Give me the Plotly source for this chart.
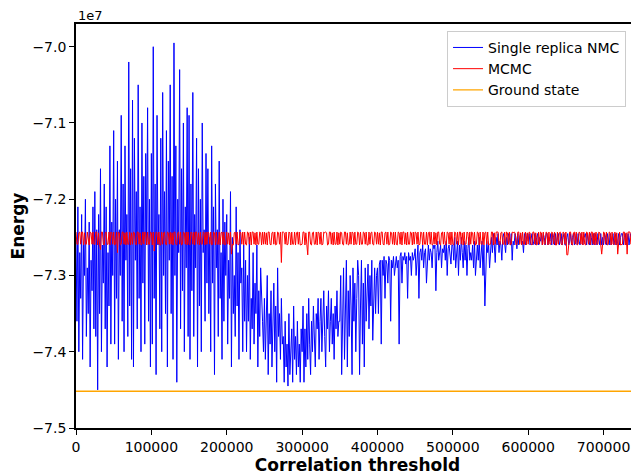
import plotly.graph_objects as go

# Correlation threshold grid (sample positions)
thresholds = list(range(0, 750000, 1250))

# Energies in units of 1e7
nmc_energy_e7 = [
    -7.25, -7.36, -7.21, -7.40, -7.27, -7.33, -7.22, -7.41, -7.26, -7.30, -7.20, -7.38, -7.29, -7.35, -7.23, -7.42, -7.28, -7.32, -7.21, -7.37,
    -7.19, -7.38, -7.24, -7.45, -7.22, -7.35, -7.16, -7.40, -7.26, -7.31, -7.18, -7.37, -7.21, -7.42, -7.27, -7.34, -7.13, -7.39, -7.23, -7.30,
    -7.11, -7.39, -7.20, -7.33, -7.15, -7.41, -7.24, -7.30, -7.09, -7.36, -7.18, -7.40, -7.13, -7.28, -7.22, -7.38, -7.02, -7.34, -7.16, -7.41,
    -7.07, -7.42, -7.12, -7.28, -7.19, -7.37, -7.05, -7.33, -7.21, -7.40, -7.10, -7.31, -7.17, -7.39, -7.14, -7.26, -7.08, -7.36, -7.20, -7.42,
    -7.14, -7.39, -7.00, -7.33, -7.18, -7.43, -7.09, -7.26, -7.22, -7.37, -7.12, -7.40, -7.06, -7.30, -7.19, -7.35, -7.11, -7.42, -7.15, -7.28,
    -7.05, -7.35, -7.17, -7.41, -6.995, -7.30, -7.13, -7.44, -7.20, -7.27, -7.03, -7.37, -7.16, -7.32, -7.10, -7.40, -7.21, -7.29, -7.08, -7.38,
    -7.09, -7.41, -7.18, -7.32, -7.06, -7.38, -7.22, -7.29, -7.12, -7.42, -7.16, -7.34, -7.20, -7.40, -7.10, -7.27, -7.24, -7.36, -7.14, -7.31,
    -7.16, -7.35, -7.25, -7.40, -7.13, -7.31, -7.21, -7.43, -7.18, -7.29, -7.24, -7.38, -7.15, -7.33, -7.27, -7.41, -7.20, -7.36, -7.23, -7.30,
    -7.22, -7.39, -7.28, -7.33, -7.19, -7.42, -7.25, -7.35, -7.30, -7.38, -7.21, -7.34, -7.27, -7.41, -7.24, -7.31, -7.29, -7.40, -7.26, -7.36,
    -7.28, -7.40, -7.30, -7.36, -7.25, -7.41, -7.33, -7.37, -7.27, -7.39, -7.31, -7.35, -7.26, -7.42, -7.32, -7.38, -7.29, -7.34, -7.36, -7.40,
    -7.33, -7.41, -7.36, -7.30, -7.43, -7.35, -7.39, -7.32, -7.42, -7.37, -7.31, -7.40, -7.34, -7.44, -7.29, -7.38, -7.35, -7.41, -7.33, -7.39,
    -7.38, -7.44, -7.36, -7.42, -7.39, -7.445, -7.35, -7.43, -7.40, -7.37, -7.44, -7.34, -7.41, -7.38, -7.43, -7.36, -7.42, -7.39, -7.44, -7.37,
    -7.40, -7.34, -7.44, -7.37, -7.42, -7.35, -7.41, -7.33, -7.39, -7.43, -7.36, -7.40, -7.34, -7.38, -7.42, -7.35, -7.37, -7.33, -7.41, -7.36,
    -7.33, -7.40, -7.35, -7.32, -7.38, -7.42, -7.34, -7.37, -7.32, -7.40, -7.36, -7.33, -7.39, -7.35, -7.41, -7.34, -7.37, -7.32, -7.38, -7.36,
    -7.36, -7.30, -7.43, -7.33, -7.29, -7.41, -7.35, -7.28, -7.42, -7.32, -7.38, -7.30, -7.34, -7.43, -7.29, -7.36, -7.31, -7.40, -7.33, -7.28,
    -7.30, -7.43, -7.34, -7.28, -7.39, -7.31, -7.42, -7.29, -7.36, -7.33, -7.285, -7.37, -7.30, -7.34, -7.28, -7.385, -7.31, -7.29, -7.35, -7.30,
    -7.29, -7.35, -7.285, -7.28, -7.39, -7.28, -7.30, -7.275, -7.33, -7.28, -7.285, -7.31, -7.275, -7.28, -7.36, -7.28, -7.29, -7.275, -7.30, -7.28,
    -7.275, -7.29, -7.28, -7.39, -7.275, -7.27, -7.31, -7.275, -7.28, -7.27, -7.285, -7.275, -7.33, -7.27, -7.28, -7.275, -7.30, -7.27, -7.28, -7.275,
    -7.265, -7.30, -7.27, -7.26, -7.33, -7.27, -7.265, -7.28, -7.26, -7.29, -7.27, -7.265, -7.31, -7.27, -7.26, -7.28, -7.265, -7.27, -7.29, -7.26,
    -7.265, -7.26, -7.32, -7.27, -7.255, -7.28, -7.265, -7.26, -7.29, -7.265, -7.27, -7.26, -7.28, -7.255, -7.30, -7.265, -7.26, -7.27, -7.285, -7.26,
    -7.26, -7.28, -7.25, -7.29, -7.27, -7.255, -7.30, -7.26, -7.28, -7.25, -7.27, -7.29, -7.255, -7.28, -7.26, -7.30, -7.265, -7.25, -7.28, -7.27,
    -7.28, -7.26, -7.29, -7.255, -7.30, -7.27, -7.26, -7.28, -7.25, -7.29, -7.27, -7.255, -7.30, -7.26, -7.34, -7.28, -7.255, -7.27, -7.26, -7.29,
    -7.26, -7.25, -7.27, -7.245, -7.26, -7.283, -7.25, -7.26, -7.245, -7.27, -7.255, -7.26, -7.28, -7.25, -7.245, -7.26, -7.27, -7.25, -7.26, -7.245,
    -7.25, -7.26, -7.245, -7.28, -7.255, -7.26, -7.245, -7.25, -7.265, -7.245, -7.26, -7.25, -7.245, -7.26, -7.255, -7.27, -7.245, -7.26, -7.25, -7.245,
    -7.255, -7.245, -7.26, -7.25, -7.245, -7.26, -7.255, -7.245, -7.26, -7.25, -7.245, -7.26, -7.25, -7.255, -7.245, -7.26, -7.245, -7.25, -7.26, -7.245,
    -7.245, -7.26, -7.25, -7.255, -7.245, -7.26, -7.245, -7.25, -7.26, -7.245, -7.26, -7.25, -7.245, -7.26, -7.255, -7.245, -7.26, -7.25, -7.245, -7.26,
    -7.26, -7.25, -7.245, -7.26, -7.255, -7.245, -7.26, -7.25, -7.245, -7.26, -7.25, -7.245, -7.26, -7.245, -7.255, -7.26, -7.245, -7.25, -7.26, -7.245,
    -7.25, -7.245, -7.26, -7.245, -7.255, -7.26, -7.245, -7.25, -7.26, -7.245, -7.26, -7.245, -7.25, -7.26, -7.245, -7.255, -7.26, -7.245, -7.26, -7.25,
    -7.26, -7.245, -7.25, -7.26, -7.245, -7.255, -7.26, -7.245, -7.26, -7.25, -7.245, -7.26, -7.25, -7.245, -7.26, -7.255, -7.245, -7.26, -7.25, -7.245,
    -7.245, -7.26, -7.25, -7.245, -7.26, -7.255, -7.245, -7.26, -7.25, -7.245, -7.26, -7.25, -7.245, -7.26, -7.255, -7.245, -7.26, -7.25, -7.245, -7.26,
]

mcmc_energy_e7 = [
    -7.243, -7.259, -7.259, -7.244, -7.243, -7.259, -7.243, -7.243, -7.260, -7.244, -7.259, -7.259, -7.243, -7.250, -7.260, -7.243, -7.244, -7.259, -7.243, -7.259,
    -7.259, -7.243, -7.243, -7.260, -7.244, -7.259, -7.266, -7.243, -7.243, -7.259, -7.260, -7.244, -7.243, -7.259, -7.259, -7.243, -7.260, -7.243, -7.244, -7.259,
    -7.243, -7.260, -7.259, -7.243, -7.270, -7.243, -7.244, -7.260, -7.259, -7.243, -7.243, -7.259, -7.244, -7.260, -7.243, -7.259, -7.259, -7.243, -7.260, -7.244,
    -7.259, -7.243, -7.244, -7.259, -7.260, -7.243, -7.243, -7.259, -7.244, -7.260, -7.259, -7.243, -7.259, -7.243, -7.244, -7.260, -7.243, -7.259, -7.259, -7.243,
    -7.244, -7.260, -7.243, -7.268, -7.259, -7.243, -7.244, -7.259, -7.243, -7.260, -7.260, -7.243, -7.259, -7.244, -7.243, -7.259, -7.260, -7.243, -7.244, -7.259,
    -7.243, -7.259, -7.244, -7.260, -7.243, -7.243, -7.259, -7.260, -7.244, -7.243, -7.259, -7.243, -7.260, -7.259, -7.243, -7.244, -7.259, -7.243, -7.260, -7.243,
    -7.259, -7.260, -7.243, -7.244, -7.259, -7.243, -7.260, -7.243, -7.243, -7.259, -7.244, -7.260, -7.243, -7.259, -7.259, -7.243, -7.244, -7.260, -7.243, -7.259,
    -7.243, -7.244, -7.259, -7.243, -7.260, -7.259, -7.243, -7.244, -7.260, -7.243, -7.259, -7.259, -7.243, -7.260, -7.244, -7.243, -7.259, -7.243, -7.260, -7.259,
    -7.243, -7.259, -7.244, -7.260, -7.243, -7.272, -7.259, -7.260, -7.244, -7.243, -7.259, -7.243, -7.260, -7.259, -7.243, -7.244, -7.259, -7.243, -7.260, -7.243,
    -7.259, -7.260, -7.243, -7.244, -7.259, -7.243, -7.260, -7.243, -7.243, -7.259, -7.244, -7.260, -7.243, -7.259, -7.259, -7.243, -7.244, -7.260, -7.243, -7.259,
    -7.243, -7.259, -7.244, -7.260, -7.243, -7.243, -7.259, -7.260, -7.244, -7.243, -7.259, -7.243, -7.260, -7.259, -7.243, -7.244, -7.259, -7.243, -7.283, -7.243,
    -7.243, -7.244, -7.259, -7.243, -7.260, -7.259, -7.243, -7.244, -7.260, -7.243, -7.259, -7.259, -7.243, -7.260, -7.244, -7.243, -7.259, -7.243, -7.260, -7.259,
    -7.259, -7.243, -7.243, -7.260, -7.244, -7.259, -7.273, -7.243, -7.243, -7.259, -7.260, -7.244, -7.243, -7.259, -7.259, -7.243, -7.260, -7.243, -7.244, -7.259,
    -7.243, -7.260, -7.259, -7.243, -7.244, -7.243, -7.244, -7.260, -7.259, -7.243, -7.243, -7.259, -7.244, -7.260, -7.243, -7.259, -7.259, -7.243, -7.260, -7.244,
    -7.259, -7.243, -7.244, -7.259, -7.260, -7.243, -7.243, -7.259, -7.244, -7.260, -7.259, -7.243, -7.259, -7.243, -7.244, -7.260, -7.243, -7.259, -7.259, -7.243,
    -7.244, -7.260, -7.243, -7.259, -7.259, -7.243, -7.244, -7.259, -7.243, -7.260, -7.260, -7.243, -7.259, -7.244, -7.243, -7.259, -7.260, -7.243, -7.244, -7.259,
    -7.243, -7.259, -7.244, -7.260, -7.243, -7.243, -7.259, -7.260, -7.244, -7.243, -7.259, -7.243, -7.260, -7.259, -7.243, -7.244, -7.259, -7.243, -7.260, -7.243,
    -7.259, -7.260, -7.243, -7.244, -7.259, -7.243, -7.260, -7.243, -7.243, -7.259, -7.244, -7.260, -7.243, -7.259, -7.259, -7.243, -7.244, -7.260, -7.243, -7.259,
    -7.243, -7.244, -7.259, -7.243, -7.260, -7.259, -7.243, -7.244, -7.260, -7.243, -7.259, -7.259, -7.243, -7.260, -7.244, -7.243, -7.259, -7.243, -7.260, -7.259,
    -7.243, -7.259, -7.244, -7.260, -7.243, -7.243, -7.259, -7.260, -7.244, -7.243, -7.259, -7.243, -7.260, -7.259, -7.243, -7.244, -7.259, -7.243, -7.260, -7.243,
    -7.259, -7.260, -7.243, -7.244, -7.259, -7.243, -7.260, -7.243, -7.243, -7.259, -7.244, -7.260, -7.243, -7.259, -7.259, -7.243, -7.244, -7.260, -7.243, -7.259,
    -7.243, -7.244, -7.259, -7.243, -7.260, -7.259, -7.243, -7.244, -7.260, -7.243, -7.259, -7.259, -7.243, -7.260, -7.244, -7.243, -7.259, -7.243, -7.260, -7.259,
    -7.259, -7.243, -7.243, -7.260, -7.244, -7.259, -7.243, -7.243, -7.243, -7.259, -7.260, -7.244, -7.243, -7.259, -7.259, -7.243, -7.260, -7.243, -7.244, -7.259,
    -7.243, -7.260, -7.259, -7.243, -7.244, -7.243, -7.244, -7.260, -7.259, -7.243, -7.243, -7.259, -7.244, -7.260, -7.243, -7.259, -7.259, -7.243, -7.260, -7.244,
    -7.259, -7.243, -7.244, -7.259, -7.260, -7.243, -7.243, -7.259, -7.244, -7.260, -7.259, -7.243, -7.259, -7.243, -7.244, -7.260, -7.243, -7.259, -7.259, -7.243,
    -7.244, -7.260, -7.243, -7.259, -7.259, -7.243, -7.244, -7.259, -7.243, -7.260, -7.260, -7.243, -7.259, -7.244, -7.243, -7.259, -7.260, -7.243, -7.244, -7.259,
    -7.243, -7.273, -7.273, -7.260, -7.243, -7.243, -7.259, -7.260, -7.244, -7.243, -7.259, -7.243, -7.260, -7.259, -7.243, -7.244, -7.259, -7.243, -7.260, -7.243,
    -7.259, -7.260, -7.243, -7.244, -7.259, -7.243, -7.260, -7.243, -7.243, -7.259, -7.244, -7.260, -7.243, -7.259, -7.259, -7.243, -7.244, -7.260, -7.272, -7.259,
    -7.243, -7.244, -7.259, -7.243, -7.260, -7.259, -7.243, -7.244, -7.260, -7.243, -7.259, -7.259, -7.243, -7.260, -7.244, -7.272, -7.259, -7.243, -7.260, -7.259,
    -7.259, -7.243, -7.243, -7.260, -7.244, -7.272, -7.243, -7.243, -7.243, -7.259, -7.260, -7.244, -7.243, -7.259, -7.259, -7.243, -7.260, -7.243, -7.244, -7.259,
]

ground_state_e7 = -7.4518

y_ticks = [-7.5, -7.4, -7.3, -7.2, -7.1, -7.0]
y_tick_labels = ["\u22127.5", "\u22127.4", "\u22127.3", "\u22127.2", "\u22127.1", "\u22127.0"]
x_ticks = [0, 100000, 200000, 300000, 400000, 500000, 600000, 700000]
x_tick_labels = ["0", "100000", "200000", "300000", "400000", "500000", "600000", "700000"]

FONT = "DejaVu Sans"

fig = go.Figure()
fig.add_trace(go.Scatter(
    x=thresholds, y=nmc_energy_e7, mode="lines", name="Single replica NMC",
    line=dict(color="blue", width=1.0),
))
fig.add_trace(go.Scatter(
    x=thresholds, y=mcmc_energy_e7, mode="lines", name="MCMC",
    line=dict(color="red", width=1.0),
))
fig.add_trace(go.Scatter(
    x=[thresholds[0], thresholds[-1]], y=[ground_state_e7, ground_state_e7],
    mode="lines", name="Ground state",
    line=dict(color="orange", width=1.3),
))

# The page body has an 8px margin, so the figure is 8px smaller than the window.
fig.update_layout(
    width=631, height=467,
    margin=dict(l=68, r=0, t=16, b=47, autoexpand=False),
    paper_bgcolor="white", plot_bgcolor="white",
    font=dict(family=FONT, size=14, color="black"),
    showlegend=True,
    legend=dict(
        x=0.659, y=0.983, xanchor="left", yanchor="top",
        bgcolor="rgba(255,255,255,0.8)", bordercolor="#cccccc", borderwidth=1,
        font=dict(family=FONT, size=14),
        tracegroupgap=0,
    ),
    annotations=[dict(
        text="1e7", xref="paper", yref="paper", x=0, y=1, xanchor="left",
        yanchor="bottom", showarrow=False, yshift=-1,
        font=dict(family=FONT, size=13),
    )],
)
fig.update_xaxes(
    range=[0, 747000], tickvals=x_ticks, ticktext=x_tick_labels,
    showline=True, linecolor="black", linewidth=1.6, mirror=True,
    ticks="outside", ticklen=5, tickwidth=1, tickcolor="black",
    showgrid=False, zeroline=False, automargin=False,
    tickfont=dict(family=FONT, size=14),
    title=dict(text="<b>Correlation threshold</b>", font=dict(family=FONT, size=17), standoff=4),
)
fig.update_yaxes(
    range=[-7.5, -6.9702], tickvals=y_ticks, ticktext=y_tick_labels,
    showline=True, linecolor="black", linewidth=1.6, mirror=False,
    ticks="outside", ticklen=5, tickwidth=1, tickcolor="black",
    showgrid=False, zeroline=False, automargin=False,
    tickfont=dict(family=FONT, size=14),
    title=dict(text="<b>Energy</b>", font=dict(family=FONT, size=17), standoff=6),
)

fig.write_html("out.html")
